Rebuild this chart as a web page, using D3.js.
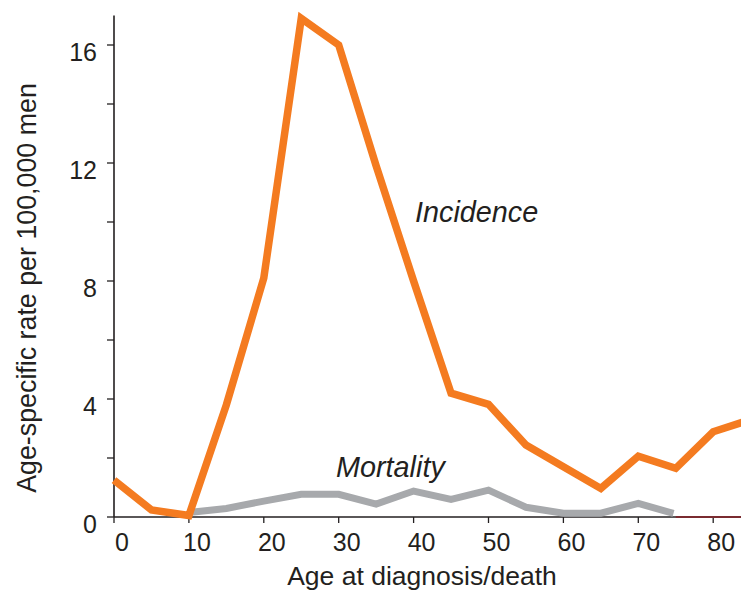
<!DOCTYPE html>
<html>
<head>
<meta charset="utf-8">
<script src="https://cdn.jsdelivr.net/npm/d3@7"></script>
<style>
  html, body { margin: 0; padding: 0; background: #fff; }
  svg { display: block; font-family: "Liberation Sans", Arial, Helvetica, sans-serif; }
</style>
</head>
<body>
<svg id="chart" width="741" height="590"></svg>
<script>
// ---- data ----
const incidenceAges = [0, 5, 10, 15, 20, 25, 30, 35, 40, 45, 50, 55, 60, 65, 70, 75, 80, 85];
const incidenceRates = [1.25, 0.24, 0.05, 3.8, 8.1, 16.9, 16.0, 11.9, 8.0, 4.2, 3.82, 2.44, 1.7, 0.97, 2.06, 1.65, 2.89, 3.3];
const mortalityAges = [10, 15, 20, 25, 30, 35, 40, 45, 50, 55, 60, 65, 70, 74.7];
const mortalityRates = [0.15, 0.29, 0.54, 0.77, 0.77, 0.44, 0.88, 0.6, 0.91, 0.33, 0.13, 0.13, 0.46, 0.12];
const zeroAges = [75, 85];
const zeroRates = [0, 0];
const xTickValues = [0, 10, 20, 30, 40, 50, 60, 70, 80];
const yMajorTicks = [0, 4, 8, 12, 16];
const yMinorTicks = [2, 6, 10, 14];
const xTitle = "Age at diagnosis/death";
const yTitle = "Age-specific rate per 100,000 men";
const labelIncidence = "Incidence";
const labelMortality = "Mortality";

// ---- layout ----
const svg = d3.select("#chart");
const W = 741, H = 590;
const x0 = 114, yBase = 517;
const pxPerYear = 7.49;
const xMax = 85;
const yMax = 17;
const pxPerUnit = 29.5;

const x = d3.scaleLinear().domain([0, xMax]).range([x0, x0 + xMax * pxPerYear]);
const y = d3.scaleLinear().domain([0, yMax]).range([yBase, yBase - yMax * pxPerUnit]);

const ink = "#231F20";

svg.append("defs").append("clipPath").attr("id", "clip")
  .append("rect").attr("x", 0).attr("y", 0).attr("width", W).attr("height", H);

// y axis
const yAxisG = svg.append("g").attr("transform", `translate(${x0},0)`);
yAxisG.append("line").attr("x1", 0).attr("x2", 0).attr("y1", y(yMax)).attr("y2", yBase)
  .attr("stroke", ink).attr("stroke-width", 1.6);
yAxisG.selectAll("line.tick").data(yMajorTicks.concat(yMinorTicks)).join("line")
  .attr("class", "tick").attr("x1", -7).attr("x2", 0)
  .attr("y1", d => y(d)).attr("y2", d => y(d)).attr("stroke", ink).attr("stroke-width", 1.3);
yAxisG.selectAll("text.tl").data(yMajorTicks).join("text")
  .attr("class", "tl").attr("x", -17).attr("y", d => y(d) + 16)
  .attr("text-anchor", "end").attr("font-size", 25).attr("fill", ink)
  .text(d => d);

// x axis
const xAxisG = svg.append("g").attr("transform", `translate(0,${yBase})`);
xAxisG.append("line").attr("x1", x0).attr("x2", W).attr("y1", 0).attr("y2", 0)
  .attr("stroke", ink).attr("stroke-width", 1.6);
xAxisG.selectAll("line.tick").data(xTickValues).join("line")
  .attr("class", "tick").attr("x1", d => x(d)).attr("x2", d => x(d))
  .attr("y1", 0).attr("y2", 6).attr("stroke", ink).attr("stroke-width", 1.3);
xAxisG.selectAll("text.tl").data(xTickValues).join("text")
  .attr("class", "tl").attr("x", d => x(d) + 8).attr("y", 34)
  .attr("text-anchor", "middle").attr("font-size", 25).attr("fill", ink)
  .text(d => d);

// axis titles
svg.append("text").attr("x", 422).attr("y", 585).attr("text-anchor", "middle")
  .attr("font-size", 26.5).attr("fill", ink).text(xTitle);
svg.append("text").attr("transform", "translate(36,288) rotate(-90)")
  .attr("text-anchor", "middle").attr("font-size", 26.8).attr("fill", ink).text(yTitle);

// lines
const line = d3.line().x(d => x(d[0])).y(d => y(d[1]));
const plot = svg.append("g").attr("clip-path", "url(#clip)");

plot.append("path").datum(zeroAges.map((a, i) => [a, zeroRates[i]]))
  .attr("d", line).attr("fill", "none").attr("stroke", "#7A2B30").attr("stroke-width", 1.8);

plot.append("path").datum(mortalityAges.map((a, i) => [a, mortalityRates[i]]))
  .attr("d", line).attr("fill", "none").attr("stroke", "#A7A9AC")
  .attr("stroke-width", 7).attr("stroke-linejoin", "miter").attr("stroke-linecap", "butt");

plot.append("path").datum(incidenceAges.map((a, i) => [a, incidenceRates[i]]))
  .attr("d", line).attr("fill", "none").attr("stroke", "#F47B20")
  .attr("stroke-width", 7.5).attr("stroke-linejoin", "miter").attr("stroke-miterlimit", 10)
  .attr("stroke-linecap", "butt");

// annotations
svg.append("text").attr("x", 415).attr("y", 222).attr("font-size", 28.8)
  .attr("font-style", "italic").attr("fill", ink).text(labelIncidence);
svg.append("text").attr("x", 336).attr("y", 477).attr("font-size", 28.8)
  .attr("font-style", "italic").attr("fill", ink).text(labelMortality);
</script>
</body>
</html>
